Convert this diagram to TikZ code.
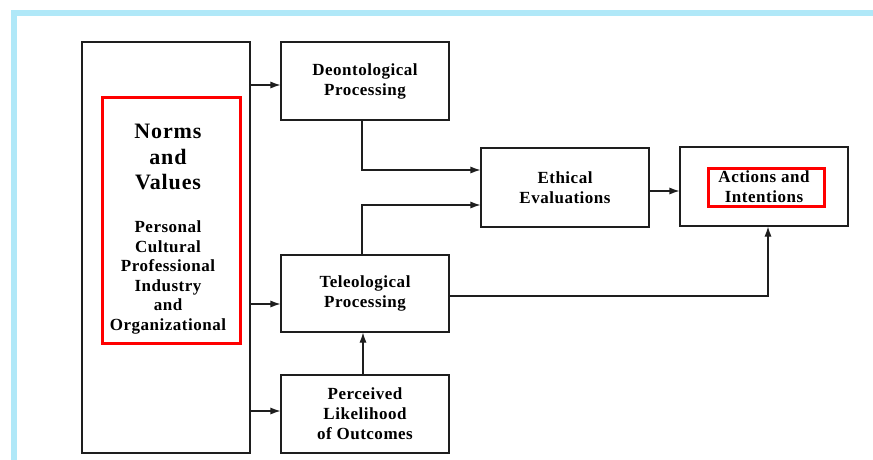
\documentclass[tikz,border=0pt]{standalone}
\usepackage{fontspec}
\setmainfont{Liberation Serif}
\newfontfamily\lblfont{Liberation Serif}[LetterSpace=3]
\newfontfamily\bigfont{Liberation Serif}[LetterSpace=4]
\usetikzlibrary{arrows.meta,calc}
\definecolor{frameblue}{RGB}{176,232,248}
\definecolor{ink}{RGB}{30,30,30}
\tikzset{
  box/.style={draw=ink,line width=1.1pt,rectangle,inner sep=0pt,minimum width=168pt,
    align=center,font=\lblfont\bfseries\fontsize{17}{20}\selectfont},
  arr/.style={draw=ink,line width=1.1pt,-{Latex[length=10pt,width=7pt]}},
  redbox/.style={draw=red,line width=3pt},
  small/.style={align=center,font=\lblfont\bfseries\fontsize{17}{19.5}\selectfont,inner sep=0pt},
  big/.style={align=center,font=\bigfont\bfseries\fontsize{22}{25.5}\selectfont,inner sep=0pt}
}
\begin{document}
\begin{tikzpicture}[x=1pt,y=-1pt]
\useasboundingbox (0,0) rectangle (873,459);
\clip (0,0) rectangle (873,459);
\fill[white] (0,0) rectangle (873,459);
\draw[frameblue,line width=6pt] (14,12.5) rectangle (890,480);

\node[box,minimum height=411pt] (nv) at (166,247.5) {};
\node[big] (nvt1) at (168,157) {Norms\\and\\Values};
\node[small] (nvt2) at (168,277.5) {Personal\\Cultural\\Professional\\Industry\\and\\Organizational};
\draw[redbox] (102,97) rectangle (240,343);

\node[box,minimum height=78pt] (deon) at (365,81) {Deontological\\Processing};
\node[box,minimum height=79pt] (eth) at (565,187.5) {Ethical\\Evaluations};
\node[box,minimum height=79pt] (act) at (764,186.5) {Actions and\\Intentions};
\draw[redbox] (708,168) rectangle (824,206);
\node[box,minimum height=77pt] (tel) at (365,293.5) {Teleological\\Processing};
\node[box,minimum height=78pt] (per) at (365,414) {Perceived\\Likelihood\\of Outcomes};

\coordinate (dIn) at ($(deon.west)+(0,4)$);
\coordinate (tIn) at ($(tel.west)+(0,10.5)$);
\coordinate (pIn) at ($(per.west)+(0,-3)$);
\draw[arr] (nv.east |- dIn) -- (dIn);
\draw[arr] (nv.east |- tIn) -- (tIn);
\draw[arr] (nv.east |- pIn) -- (pIn);

\coordinate (eIn1) at ($(eth.west)+(0,-17.5)$);
\coordinate (eIn2) at ($(eth.west)+(0,17.5)$);
\coordinate (dOut) at ($(deon.south)+(-3,0)$);
\coordinate (tOut) at ($(tel.north)+(-3,0)$);
\draw[arr] (dOut) |- (eIn1);
\draw[arr] (tOut) |- (eIn2);

\coordinate (aIn1) at ($(act.west)+(0,4.5)$);
\draw[arr] (eth.east |- aIn1) -- (aIn1);

\coordinate (tOut2) at ($(tel.east)+(0,2.5)$);
\coordinate (aIn2) at ($(act.south)+(4,0)$);
\draw[arr] (tOut2) -| (aIn2);

\coordinate (pOut) at ($(per.north)+(-2,0)$);
\draw[arr] (pOut) -- (pOut |- tel.south);
\end{tikzpicture}
\end{document}
